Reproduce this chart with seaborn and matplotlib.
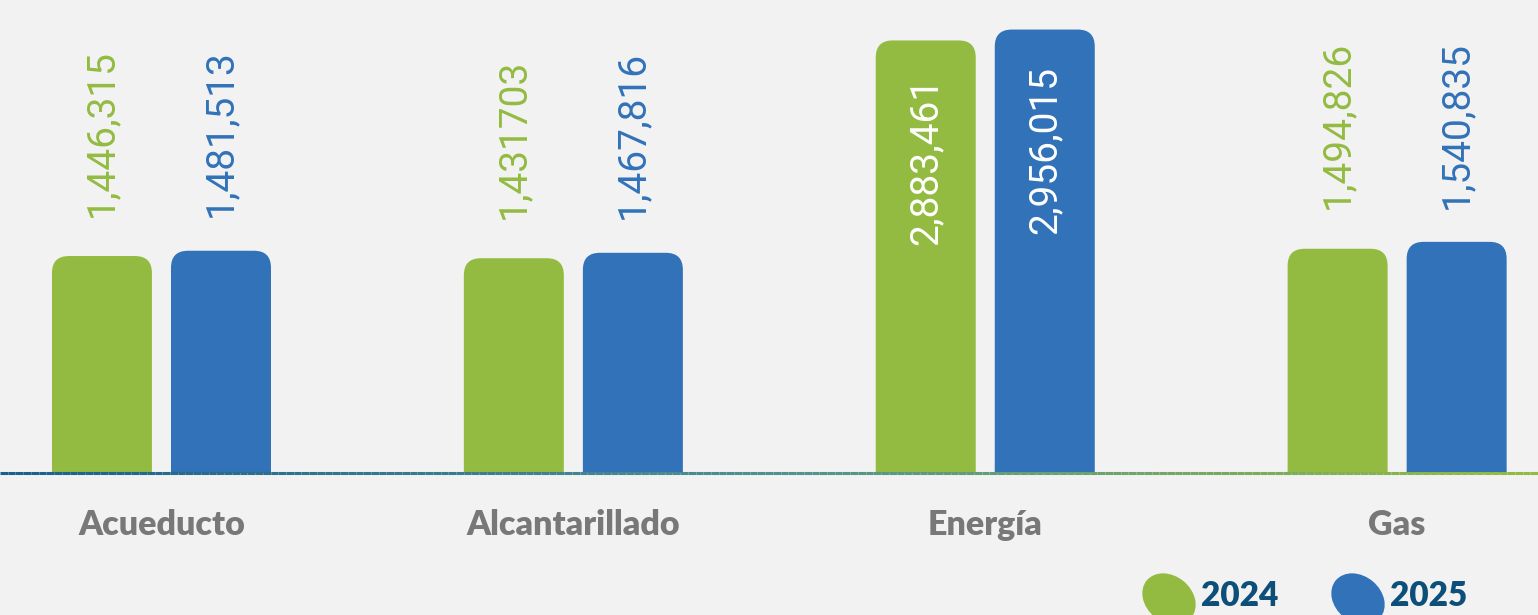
"""
Usuarios por servicio público, 2024 vs 2025 - barras con esquinas redondeadas
"""

import numpy as np
import pandas as pd
import matplotlib
matplotlib.use("Agg")
import matplotlib.pyplot as plt
from matplotlib.patches import FancyBboxPatch, Ellipse
from matplotlib.collections import LineCollection
from matplotlib.colors import LinearSegmentedColormap
import seaborn as sns

# ==================== datos ====================
servicios = ["Acueducto", "Alcantarillado", "Energía", "Gas"]
anios = ["2024", "2025"]
usuarios_2024 = [1446315, 1431703, 2883461, 1494826]
usuarios_2025 = [1481513, 1467816, 2956015, 1540835]
etiquetas_2024 = ["1,446,315", "1,431703", "2,883,461", "1,494,826"]
etiquetas_2025 = ["1,481,513", "1,467,816", "2,956,015", "1,540,835"]
# etiquetas que van dentro de la barra (en blanco)
dentro = ["Energía"]

# ==================== estilo ====================
FONDO = "#f2f2f2"
VERDE = "#93bb41"
AZUL = "#3172b8"
GRIS = "#787878"
AZUL_OSCURO = "#0c5079"

sns.set_style("white")
plt.rcParams["font.family"] = ["Roboto", "DejaVu Sans"]

df = pd.DataFrame({
    "servicio": servicios * 2,
    "anio": [anios[0]] * len(servicios) + [anios[1]] * len(servicios),
    "usuarios": usuarios_2024 + usuarios_2025,
})
etiquetas = {anios[0]: etiquetas_2024, anios[1]: etiquetas_2025}

W, H, DPI = 1538, 615, 100
fig = plt.figure(figsize=(W / DPI, H / DPI), dpi=DPI, facecolor=FONDO)
base_px = 473  # línea base, px desde arriba
ax = fig.add_axes([0, (H - base_px) / H, 1, base_px / H])
ax.set_facecolor(FONDO)

sns.barplot(data=df, x="servicio", y="usuarios", hue="anio",
            palette=[VERDE, AZUL], width=0.578, gap=0.16,
            ax=ax, legend=False, errorbar=None, saturation=1)

ax.set_xlim(-0.392, 3.342)
ax.set_ylim(0, 3.153e6)
for s in ax.spines.values():
    s.set_visible(False)
ax.set_yticks([])
ax.set_xlabel("")
ax.set_ylabel("")
ax.tick_params(axis="x", length=0, pad=26)
ax.set_xticks(range(len(servicios)))
ax.set_xticklabels(servicios, fontsize=24.5, fontweight="heavy", color=GRIS,
                   family=["Lato", "DejaVu Sans"])

# escala px por unidad para redondear esquinas
ppx = W / (ax.get_xlim()[1] - ax.get_xlim()[0])
ppy = base_px / ax.get_ylim()[1]
radio = 17
rx, ry = radio / ppx, radio / ppy

barras = []
for p in list(ax.patches):
    x0, w, h = p.get_x(), p.get_width(), p.get_height()
    color = p.get_facecolor()
    centro = x0 + w / 2
    idx = int(round(centro))
    serie = 0 if centro < idx else 1
    p.remove()
    caja = FancyBboxPatch((x0, -ry), w, h + ry,
                          boxstyle=f"round,pad=0,rounding_size={rx}",
                          mutation_aspect=ry / rx,
                          facecolor=color, edgecolor="none", zorder=2)
    ax.add_patch(caja)
    barras.append((idx, serie, centro, h))

# etiquetas de valor
for idx, serie, centro, h in barras:
    texto = etiquetas[anios[serie]][idx]
    if servicios[idx] in dentro:
        ax.annotate(texto, (centro, h), xytext=(0, -26), textcoords="offset points",
                    rotation=90, ha="center", va="top", fontsize=28,
                    color="white", zorder=4)
    else:
        alto = max(hh for i, s, c, hh in barras if i == idx)
        ax.annotate(texto, (centro, alto), xytext=(0, 24), textcoords="offset points",
                    rotation=90, ha="center", va="bottom", fontsize=28,
                    color=VERDE if serie == 0 else AZUL, zorder=4)

# línea base con degradado
cmap = LinearSegmentedColormap.from_list("base", ["#1b5f8e", "#4e9190", VERDE])
xs = np.linspace(*ax.get_xlim(), 200)
segs = [[(xs[i], 0), (xs[i + 1], 0)] for i in range(len(xs) - 1)]
lc = LineCollection(segs, colors=cmap(np.linspace(0, 1, len(segs))),
                    linewidths=2.2, zorder=3, clip_on=False)
ax.add_collection(lc)

# leyenda manual (en pulgadas para que la elipse no se deforme)
for cx, color, anio in [(1169, VERDE, anios[0]), (1358, AZUL, anios[1])]:
    e = Ellipse((cx / DPI, 16 / DPI), 58 / DPI, 46 / DPI, angle=-40,
                transform=fig.dpi_scale_trans, facecolor=color, edgecolor="none")
    fig.patches.append(e)
    fig.text((cx + 32) / W, 19 / H, anio, fontsize=24, fontweight="heavy",
             color=AZUL_OSCURO, ha="left", va="center",
             family=["Lato", "DejaVu Sans"])

plt.savefig("out.png", dpi=DPI, facecolor=FONDO)
